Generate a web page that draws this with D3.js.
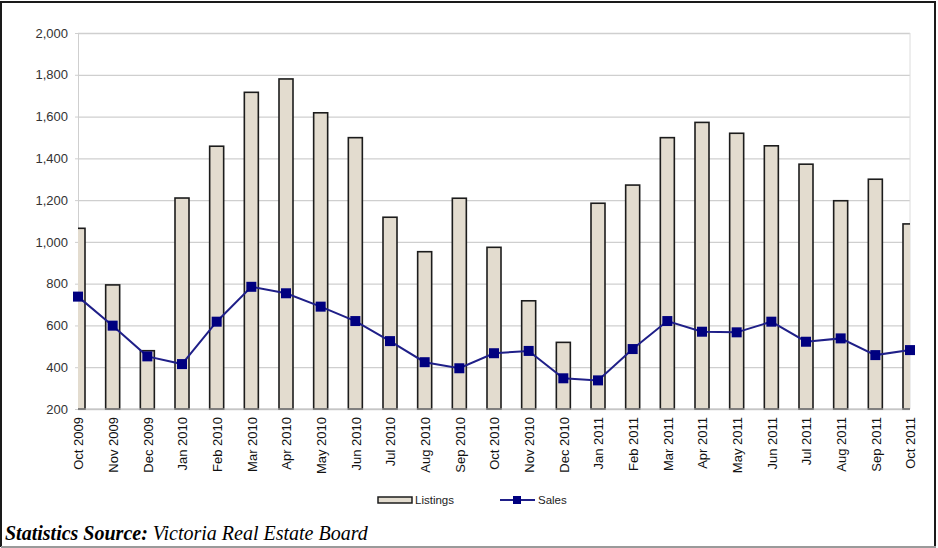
<!DOCTYPE html>
<html>
<head>
<meta charset="utf-8">
<script src="https://cdn.jsdelivr.net/npm/d3@7"></script>
<style>
  html, body { margin: 0; padding: 0; background: #fff; }
  svg { display: block; }
</style>
</head>
<body>
<svg id="chart" width="938" height="548"></svg>
<script>
const months = ["Oct 2009","Nov 2009","Dec 2009","Jan 2010","Feb 2010","Mar 2010","Apr 2010","May 2010","Jun 2010","Jul 2010","Aug 2010","Sep 2010","Oct 2010","Nov 2010","Dec 2010","Jan 2011","Feb 2011","Mar 2011","Apr 2011","May 2011","Jun 2011","Jul 2011","Aug 2011","Sep 2011","Oct 2011"];
const listings = [1065, 794, 479, 1210, 1458, 1716, 1780, 1618, 1499, 1118, 953, 1209, 974, 718, 519, 1185, 1272, 1499, 1572, 1520, 1460, 1372, 1197, 1300, 1086];
const sales = [738, 599, 452, 415, 618, 785, 754, 690, 621, 525, 424, 395, 467, 478, 347, 337, 487, 621, 570, 567, 618, 522, 538, 458, 482];
const yTicks = [200, 400, 600, 800, 1000, 1200, 1400, 1600, 1800, 2000];
const seriesNames = ["Listings", "Sales"];
const sourceBold = "Statistics Source:";
const sourceText = " Victoria Real Estate Board";

const svg = d3.select("#chart");
const L = 78, R = 910, T = 33, B = 409;

const x = d3.scalePoint().domain(months).range([L, R]);
const y = d3.scaleLinear().domain([200, 2000]).range([B, T]);

// frame
svg.append("rect").attr("x", 0).attr("y", 0).attr("width", 938).attr("height", 548).attr("fill", "#fff");
const frame = svg.append("g").attr("stroke-width", 2);
frame.append("line").attr("x1", 1).attr("x2", 936).attr("y1", 2).attr("y2", 2).attr("stroke", "#1a1a1a");
frame.append("line").attr("x1", 1).attr("x2", 1).attr("y1", 1).attr("y2", 547).attr("stroke", "#1a1a1a");
frame.append("line").attr("x1", 935).attr("x2", 935).attr("y1", 1).attr("y2", 547).attr("stroke", "#1a1a1a");
frame.append("line").attr("x1", 1).attr("x2", 936).attr("y1", 547).attr("y2", 547).attr("stroke", "#9a9a9a");

// clip
svg.append("defs").append("clipPath").attr("id", "plotclip")
  .append("rect").attr("x", L).attr("y", T - 2).attr("width", R - L).attr("height", B - T + 4);

// gridlines
const yAxis = d3.axisLeft(y).tickValues(yTicks).tickSize(-(R - L)).tickSizeOuter(0)
  .tickFormat(d3.format(","));
const gy = svg.append("g").attr("transform", `translate(${L},0)`).call(yAxis);
gy.select(".domain").attr("stroke", "#cfcfcf");
gy.selectAll(".tick line").attr("stroke", "#cfcfcf").attr("stroke-width", 1.3);
gy.selectAll(".tick text").attr("x", -10).attr("fill", "#333")
  .style("font-family", "Liberation Sans, Arial, sans-serif").style("font-size", "13px");
gy.selectAll(".tick").append("line").attr("x1", -3).attr("x2", 0).attr("stroke", "#cfcfcf");
svg.append("line").attr("x1", R).attr("x2", R).attr("y1", T).attr("y2", B).attr("stroke", "#dcdcdc");

// bars
const bw = 14;
svg.append("g").attr("clip-path", "url(#plotclip)")
  .selectAll("rect").data(months).join("rect")
  .attr("x", d => x(d) - bw / 2)
  .attr("y", (d, i) => y(listings[i]))
  .attr("width", bw)
  .attr("height", (d, i) => B - y(listings[i]))
  .attr("fill", "#e3dccf")
  .attr("stroke", "#1c1c1c")
  .attr("stroke-width", 1.6);

svg.append("line").attr("x1", L).attr("x2", R).attr("y1", B).attr("y2", B).attr("stroke", "#bdbdbd");

// sales line
const line = d3.line().x((d, i) => x(months[i])).y(d => y(d));
svg.append("path").datum(sales).attr("d", line)
  .attr("fill", "none").attr("stroke", "#1f1f88").attr("stroke-width", 2);
svg.append("g").selectAll("rect").data(sales).join("rect")
  .attr("x", (d, i) => x(months[i]) - 5)
  .attr("y", d => y(d) - 5)
  .attr("width", 10).attr("height", 10)
  .attr("fill", "#000080");

// x labels
const gx = svg.append("g").attr("transform", `translate(0,${B})`)
  .call(d3.axisBottom(x).tickSize(0));
gx.select(".domain").remove();
gx.selectAll(".tick text")
  .attr("transform", "rotate(-90)")
  .attr("text-anchor", "end")
  .attr("x", -8).attr("y", 0).attr("dy", "0.36em")
  .attr("fill", "#111")
  .style("font-family", "Liberation Sans, Arial, sans-serif").style("font-size", "13px");

// legend
const lg = svg.append("g").style("font-family", "Liberation Sans, Arial, sans-serif").style("font-size", "11.5px");
lg.append("rect").attr("x", 378).attr("y", 497).attr("width", 34).attr("height", 6)
  .attr("fill", "#e3dccf").attr("stroke", "#1c1c1c").attr("stroke-width", 1.5);
lg.append("text").attr("x", 415).attr("y", 504).attr("fill", "#222").text(seriesNames[0]);
lg.append("line").attr("x1", 500).attr("x2", 535).attr("y1", 500).attr("y2", 500)
  .attr("stroke", "#1f1f88").attr("stroke-width", 2);
lg.append("rect").attr("x", 513).attr("y", 496).attr("width", 8).attr("height", 8).attr("fill", "#000080");
lg.append("text").attr("x", 538).attr("y", 504).attr("fill", "#222").text(seriesNames[1]);

// source
const st = svg.append("text").attr("x", 5).attr("y", 540)
  .style("font-family", "Liberation Serif, Times New Roman, serif").style("font-size", "20px")
  .style("font-style", "italic").attr("fill", "#000");
st.append("tspan").style("font-weight", "bold").text(sourceBold);
st.append("tspan").text(sourceText);
</script>
</body>
</html>
